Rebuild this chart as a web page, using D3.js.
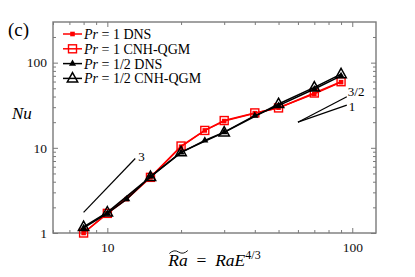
<!DOCTYPE html>
<html>
<head>
<meta charset="utf-8">
<script src="https://cdn.jsdelivr.net/npm/d3@7"></script>
<style>
  body { margin: 0; background: #fff; }
</style>
</head>
<body>
<div class="chart"></div>
<script>
// Pr = 1, DNS
const pr1DnsRa = [8, 10, 12, 15, 20, 25, 30, 40, 50, 70, 90];
const pr1DnsNu = [1.0, 1.7, 2.5, 4.5, 10.3, 16, 20.6, 25.5, 29.6, 43, 59];
// Pr = 1, CNH-QGM
const pr1QgmRa = [8, 10, 15, 20, 25, 30, 40, 50, 70, 90];
const pr1QgmNu = [1.0, 1.7, 4.5, 10.5, 16, 20.9, 25.7, 29.4, 44, 59.7];
// Pr = 1/2, DNS
const pr2DnsRa = [8, 10, 12, 15, 20, 25, 30, 40, 50, 70, 90];
const pr2DnsNu = [1.15, 1.7, 2.5, 4.6, 8.8, 12.2, 15.3, 23.9, 31.3, 49, 70];
// Pr = 1/2, CNH-QGM
const pr2QgmRa = [8, 10, 15, 20, 30, 50, 70, 90];
const pr2QgmNu = [1.18, 1.75, 4.55, 8.9, 15.2, 32.7, 51.2, 73.4];

const legendLabels = ["1 DNS", "1 CNH-QGM", "1/2 DNS", "1/2 CNH-QGM"];

const xTicks = [10, 100];
const xMinor = [6, 7, 8, 9, 20, 30, 40, 50, 60, 70, 80, 90];
const yTicks = [1, 10, 100];
const yMinor = [2, 3, 4, 5, 6, 7, 8, 9, 20, 30, 40, 50, 60, 70, 80, 90, 200];

// slope guides: [x0, y0, x1, y1]
const slope3 = [8, 1.75, 13, 7.5];
const slope32 = [60, 20, 95, 39.8];
const slope1 = [60, 20, 95, 31.7];

const W = 415, H = 277;
const pLeft = 53, pRight = 376, pTop = 22, pBottom = 233;
const frameColor = "#7a7a7a";
const serif = "'Liberation Serif', 'DejaVu Serif', serif";

const svg = d3.select(".chart")
    .append("svg")
    .attr("width", W)
    .attr("height", H)
    .style("background-color", "white");

const x = d3.scaleLog().domain([6, 125]).range([pLeft, pRight]);
const y = d3.scaleLog().domain([1, 300]).range([pBottom, pTop]);

// axes, ticks pointing inwards on all four sides
function styleAxis(g) {
    g.select(".domain").remove();
    g.selectAll("line").attr("stroke", frameColor).attr("stroke-width", 1);
    g.selectAll("text")
        .style("font-family", serif)
        .style("font-size", "13.5px")
        .attr("fill", "#111");
}

svg.append("g")
    .attr("transform", "translate(0," + pBottom + ")")
    .call(d3.axisBottom(x).tickValues(xTicks).tickFormat(d3.format("d")).tickSize(-5).tickPadding(9))
    .call(styleAxis);
svg.append("g")
    .attr("transform", "translate(0," + pBottom + ")")
    .call(d3.axisBottom(x).tickValues(xMinor).tickFormat("").tickSize(-3))
    .call(styleAxis);
svg.append("g")
    .attr("transform", "translate(0," + pTop + ")")
    .call(d3.axisTop(x).tickValues(xTicks).tickFormat("").tickSize(-5))
    .call(styleAxis);
svg.append("g")
    .attr("transform", "translate(0," + pTop + ")")
    .call(d3.axisTop(x).tickValues(xMinor).tickFormat("").tickSize(-3))
    .call(styleAxis);

svg.append("g")
    .attr("transform", "translate(" + pLeft + ",0)")
    .call(d3.axisLeft(y).tickValues(yTicks).tickFormat(d3.format("d")).tickSize(-5).tickPadding(6))
    .call(styleAxis);
svg.append("g")
    .attr("transform", "translate(" + pLeft + ",0)")
    .call(d3.axisLeft(y).tickValues(yMinor).tickFormat("").tickSize(-3))
    .call(styleAxis);
svg.append("g")
    .attr("transform", "translate(" + pRight + ",0)")
    .call(d3.axisRight(y).tickValues(yTicks).tickFormat("").tickSize(-5))
    .call(styleAxis);
svg.append("g")
    .attr("transform", "translate(" + pRight + ",0)")
    .call(d3.axisRight(y).tickValues(yMinor).tickFormat("").tickSize(-3))
    .call(styleAxis);

svg.append("rect")
    .attr("x", pLeft)
    .attr("y", pTop)
    .attr("width", pRight - pLeft)
    .attr("height", pBottom - pTop)
    .attr("fill", "none")
    .attr("stroke", frameColor)
    .attr("stroke-width", 1.4);

// series
const series = [
    {ra: pr1DnsRa, nu: pr1DnsNu, color: "#ff0000", marker: "fsquare"},
    {ra: pr1QgmRa, nu: pr1QgmNu, color: "#ff0000", marker: "osquare"},
    {ra: pr2DnsRa, nu: pr2DnsNu, color: "#000000", marker: "ftri"},
    {ra: pr2QgmRa, nu: pr2QgmNu, color: "#000000", marker: "otri"}
];

const line = d3.line()
    .x(function (d) { return x(d[0]); })
    .y(function (d) { return y(d[1]); });

function drawMarker(g, type, color) {
    if (type == "fsquare") {
        g.append("rect").attr("x", -2.3).attr("y", -2.3).attr("width", 4.6).attr("height", 4.6)
            .attr("fill", color);
    } else if (type == "osquare") {
        g.append("rect").attr("x", -4).attr("y", -4).attr("width", 8).attr("height", 8)
            .attr("fill", "none").attr("stroke", color).attr("stroke-width", 1.4);
    } else if (type == "ftri") {
        g.append("path").attr("d", d3.symbol(d3.symbolTriangle, 22)())
            .attr("fill", color);
    } else {
        g.append("path").attr("d", "M0,-5.8L5.2,3.6L-5.2,3.6Z")
            .attr("fill", "none").attr("stroke", color).attr("stroke-width", 1.5)
            .attr("stroke-linejoin", "miter");
    }
}

series.forEach(function (s) {
    const pts = s.ra.map(function (r, i) { return [r, s.nu[i]]; });
    svg.append("path")
        .datum(pts)
        .attr("d", line)
        .attr("fill", "none")
        .attr("stroke", s.color)
        .attr("stroke-width", 1.5);
    svg.append("g")
        .selectAll("g")
        .data(pts)
        .enter()
        .append("g")
        .attr("transform", function (d) { return "translate(" + x(d[0]) + "," + y(d[1]) + ")"; })
        .each(function () { drawMarker(d3.select(this), s.marker, s.color); });
});

// slope guides
[slope3, slope32, slope1].forEach(function (s) {
    svg.append("line")
        .attr("x1", x(s[0])).attr("y1", y(s[1]))
        .attr("x2", x(s[2])).attr("y2", y(s[3]))
        .attr("stroke", "#000")
        .attr("stroke-width", 1.2);
});

function note(tx, ty, str) {
    svg.append("text")
        .attr("x", tx).attr("y", ty)
        .style("font-family", serif)
        .style("font-size", "13px")
        .text(str);
}
note(x(slope3[2]) + 3, y(slope3[3]) + 3, "3");
note(x(slope32[2]) + 1, y(slope32[3]) - 1, "3/2");
note(x(slope1[2]) + 2, y(slope1[3]) + 6, "1");

// legend
const legend = svg.append("g")
    .selectAll("g")
    .data(series)
    .enter()
    .append("g")
    .attr("transform", function (d, i) { return "translate(0," + (34 + i * 14.8) + ")"; });

legend.append("line")
    .attr("x1", 63).attr("x2", 82)
    .attr("stroke", function (d) { return d.color; })
    .attr("stroke-width", 1.5);

legend.append("g")
    .attr("transform", "translate(72.5,0)")
    .each(function (d) { drawMarker(d3.select(this), d.marker, d.color); });

const legendText = legend.append("text")
    .attr("x", 84)
    .attr("y", 5)
    .style("font-family", serif)
    .style("font-size", "14px");
legendText.append("tspan").style("font-style", "italic").text("Pr");
legendText.append("tspan").text(function (d, i) { return " = " + legendLabels[i]; });

// axis titles
svg.append("text")
    .attr("x", 8)
    .attr("y", 36)
    .style("font-family", serif)
    .style("font-size", "19px")
    .text("(c)");

svg.append("text")
    .attr("x", 12)
    .attr("y", 119)
    .style("font-family", serif)
    .style("font-size", "17px")
    .style("font-style", "italic")
    .text("Nu");

const xTitle = svg.append("text")
    .attr("x", (pLeft + pRight) / 2)
    .attr("y", 266)
    .attr("text-anchor", "middle")
    .style("font-family", serif)
    .style("font-size", "17.5px");
xTitle.append("tspan").style("font-style", "italic").text("Ra");
xTitle.append("tspan").text("\u2002=\u2002");
xTitle.append("tspan").style("font-style", "italic").text("RaE");
xTitle.append("tspan").attr("dy", -7).style("font-size", "12px").text("4/3");

// wide tilde over the first "Ra"
const tn = xTitle.node();
const tx0 = tn.getStartPositionOfChar(0).x + 1;
const tx1 = tn.getEndPositionOfChar(1).x;
const ty = 252;
const tw = tx1 - tx0;
svg.append("path")
    .attr("d", "M" + tx0 + "," + (ty + 1.5) +
        "Q" + (tx0 + tw * 0.25) + "," + (ty - 3) + " " + (tx0 + tw * 0.5) + "," + ty +
        "T" + tx1 + "," + (ty - 1.5))
    .attr("fill", "none")
    .attr("stroke", "#000")
    .attr("stroke-width", 0.9);
</script>
</body>
</html>
